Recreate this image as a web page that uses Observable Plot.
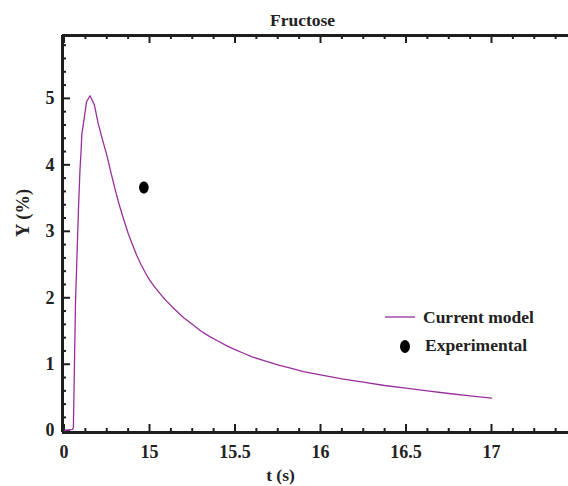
<!DOCTYPE html>
<html>
<head>
<meta charset="utf-8">
<script src="https://cdn.jsdelivr.net/npm/d3@7"></script>
<script src="https://cdn.jsdelivr.net/npm/@observablehq/plot@0.6"></script>
<style>
  body { margin: 0; background: #fff; }
  #chart { width: 568px; height: 486px; }
</style>
</head>
<body>
<div id="chart"></div>
<script>
// ---- data ----
const title = "Fructose";
const xLabel = "t (s)";
const yLabel = "Y (%)";
const legendLabels = ["Current model", "Experimental"];

const modelT = [14.5, 14.55, 14.555, 14.567, 14.577, 14.585, 14.593, 14.6, 14.604, 14.632, 14.652, 14.678,
  14.70, 14.725, 14.75, 14.775, 14.80, 14.825, 14.85, 14.875, 14.90, 14.925, 14.95, 14.975, 15.00,
  15.025, 15.05, 15.075, 15.10, 15.15, 15.20, 15.25, 15.30, 15.35, 15.40, 15.45, 15.50, 15.55,
  15.60, 15.675, 15.75, 15.825, 15.90, 16.00, 16.125, 16.25, 16.375, 16.50, 16.625, 16.75, 16.875, 17.00];
const modelY = [0, 0.02, 0.05, 1.9, 2.72, 3.36, 3.9, 4.22, 4.45, 4.95, 5.04, 4.90,
  4.62, 4.38, 4.15, 3.88, 3.62, 3.38, 3.17, 2.97, 2.80, 2.64, 2.50, 2.38, 2.27,
  2.18, 2.10, 2.02, 1.95, 1.82, 1.70, 1.60, 1.50, 1.42, 1.35, 1.28, 1.22, 1.165,
  1.11, 1.05, 0.99, 0.94, 0.89, 0.84, 0.78, 0.73, 0.68, 0.64, 0.60, 0.56, 0.525, 0.49];

const expT = [14.967];
const expY = [3.66];

const xTicks = [14.5, 15, 15.5, 16, 16.5, 17];
const xTickLabels = ["0", "15", "15.5", "16", "16.5", "17"];
const xMinorTicks = [14.625, 14.75, 14.875, 15.125, 15.25, 15.375, 15.625, 15.75, 15.875,
  16.125, 16.25, 16.375, 16.625, 16.75, 16.875, 17.125, 17.25, 17.375];
const yTicks = [0, 1, 2, 3, 4, 5];
const yTickLabels = ["0", "1", "2", "3", "4", "5"];
const yMinorTicks = [0.2, 0.4, 0.6, 0.8, 1.2, 1.4, 1.6, 1.8, 2.2, 2.4, 2.6, 2.8,
  3.2, 3.4, 3.6, 3.8, 4.2, 4.4, 4.6, 4.8, 5.2, 5.4, 5.6, 5.8];

const xDomain = [14.4912, 17.4503];
const yDomain = [-0.027, 5.946];

// ---- build ----
const model = modelT.map((t, i) => ({t, y: modelY[i]}));
const exp = expT.map((t, i) => ({t, y: expY[i]}));

const W = 568, H = 486;
const mL = 62, mR = 0, mT = 35, mB = 54;
const fw = W - mL - mR, fh = H - mT - mB;
const purple = "#982f9b";
const ink = "#1e1e1e";
const font = "Liberation Serif";

const ellipse = {
  draw(ctx, size) {
    const r = Math.sqrt(size / Math.PI);
    const rx = r * 0.8, ry = r, k = 0.5523;
    ctx.moveTo(rx, 0);
    ctx.bezierCurveTo(rx, ry * k, rx * k, ry, 0, ry);
    ctx.bezierCurveTo(-rx * k, ry, -rx, ry * k, -rx, 0);
    ctx.bezierCurveTo(-rx, -ry * k, -rx * k, -ry, 0, -ry);
    ctx.bezierCurveTo(rx * k, -ry, rx, -ry * k, rx, 0);
    ctx.closePath();
  }
};

const chart = Plot.plot({
  width: W, height: H,
  marginLeft: mL, marginRight: mR, marginTop: mT, marginBottom: mB,
  style: {fontFamily: font, fontWeight: "bold", color: "#222", background: "#fff", overflow: "visible"},
  x: {domain: xDomain},
  y: {domain: yDomain},
  marks: [
    // frame lines
    Plot.ruleY([yDomain[0], yDomain[1]], {stroke: ink, strokeWidth: 3}),
    Plot.ruleX([xDomain[0]], {stroke: ink, strokeWidth: 3}),
    // inward ticks, bottom
    Plot.tickX(xTicks, {x: d => d, insetTop: fh - 8, stroke: ink, strokeWidth: 2}),
    Plot.tickX(xMinorTicks, {x: d => d, insetTop: fh - 4, stroke: ink, strokeWidth: 2}),
    // inward ticks, top
    Plot.tickX(xTicks, {x: d => d, insetBottom: fh - 8, stroke: ink, strokeWidth: 2}),
    Plot.tickX(xMinorTicks, {x: d => d, insetBottom: fh - 4, stroke: ink, strokeWidth: 2}),
    // inward ticks, left
    Plot.tickY(yTicks, {y: d => d, insetRight: fw - 8, stroke: ink, strokeWidth: 2}),
    Plot.tickY(yMinorTicks, {y: d => d, insetRight: fw - 4, stroke: ink, strokeWidth: 2}),
    // tick labels
    Plot.axisX(xTicks, {tickSize: 0, tickPadding: 13, label: null, fontSize: 18, fill: "#222",
      tickFormat: d => xTickLabels[xTicks.indexOf(d)]}),
    Plot.axisY(yTicks, {tickSize: 0, tickPadding: 8, label: null, fontSize: 18, fill: "#222",
      tickFormat: d => yTickLabels[yTicks.indexOf(d)]}),
    // data
    Plot.line(model, {x: "t", y: "y", stroke: purple, strokeWidth: 1.3}),
    Plot.dot(exp, {x: "t", y: "y", r: 6, symbol: ellipse, fill: "#000", stroke: "none"}),
    // titles
    Plot.text([title], {frameAnchor: "top", dx: -13, dy: -10, lineAnchor: "bottom", fontSize: 17.5, fontWeight: "bold", fill: "#222"}),
    Plot.text([xLabel], {frameAnchor: "bottom", dx: -35, dy: 48, lineAnchor: "bottom", fontSize: 17.5, fontWeight: "bold", fill: "#222"}),
    Plot.text([yLabel], {frameAnchor: "left", dx: -39, dy: 3, rotate: -90, fontSize: 18.5, fontWeight: "bold", fill: "#222"})
  ]
});

// legend
const svg = d3.select(chart);
const lg = svg.append("g").attr("font-family", font).attr("font-weight", "bold")
  .attr("font-size", 17.5).attr("fill", "#222").attr("text-anchor", "start");
lg.append("line").attr("x1", 385).attr("x2", 415).attr("y1", 317).attr("y2", 317)
  .attr("stroke", purple).attr("stroke-width", 1.3);
lg.append("text").attr("x", 423).attr("y", 323).attr("text-anchor", "start").text(legendLabels[0]);
lg.append("ellipse").attr("cx", 405).attr("cy", 346.5).attr("rx", 5).attr("ry", 6.5).attr("fill", "#000");
lg.append("text").attr("x", 425).attr("y", 351).attr("text-anchor", "start").text(legendLabels[1]);

document.getElementById("chart").appendChild(chart);
</script>
</body>
</html>
